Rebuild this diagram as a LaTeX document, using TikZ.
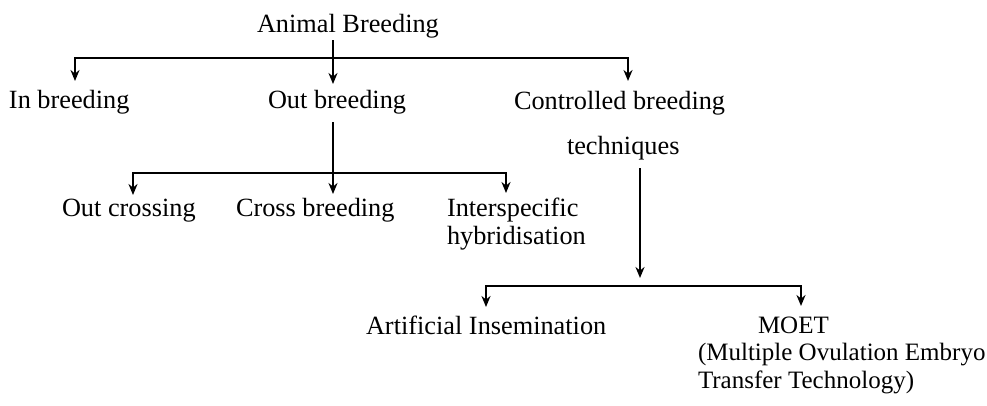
\documentclass[tikz,border=0pt]{standalone}
\usepackage{fontspec}
\setmainfont{Liberation Serif}
\usetikzlibrary{arrows.meta}
\begin{document}
\begin{tikzpicture}[x=1pt,y=-1pt,
  lbl/.style={font=\fontsize{26.3}{28}\selectfont, inner sep=0pt, outer sep=0pt, anchor=base west},
  small/.style={font=\fontsize{25}{28}\selectfont},
  mlbl/.style={lbl, align=left, anchor=north west},
  ln/.style={line width=2.2pt},
  arr/.style={ln, -{Stealth[length=11pt,width=9pt,inset=3.5pt]}}]
\useasboundingbox (0,0) rectangle (987,405);
% labels
\node[lbl] (AB) at (257,32) {Animal Breeding};
\node[lbl] (IB) at (9,108) {In breeding};
\node[lbl] (OB) at (268,108) {Out breeding};
\node[lbl] (CB) at (514,109) {Controlled breeding};
\node[lbl] (TQ) at (567,154) {techniques};
\node[lbl] (OC) at (62,216) {Out crossing};
\node[lbl] (CR) at (236,216) {Cross breeding};
\node[mlbl] (IS) at (447,198) {Interspecific\\hybridisation};
\node[lbl] (AI) at (366,334) {Artificial Insemination};
\node[lbl, small] (MO) at (758,333) {MOET};
\node[mlbl, small] (MD) at (698,343) {(Multiple Ovulation Embryo\\Transfer Technology)};
% first level
\coordinate (a0) at (333,40);
\coordinate (h1m) at (333,58);
\coordinate (pIB) at (75,81);
\coordinate (pOB) at (333,84);
\coordinate (pCB) at (628,81);
\draw[arr] (a0) -- (pOB);
\draw[arr] (h1m) -| (pIB);
\draw[arr] (h1m) -| (pCB);
% second level
\coordinate (b0) at (333,122);
\coordinate (h2m) at (333,173);
\coordinate (pOC) at (133,195);
\coordinate (pCR) at (333,194);
\coordinate (pIS) at (506,193);
\draw[arr] (b0) -- (pCR);
\draw[arr] (h2m) -| (pOC);
\draw[arr] (h2m) -| (pIS);
% third level
\coordinate (c0) at (640,168);
\coordinate (pTQ) at (640,278);
\coordinate (h3m) at (640,286);
\coordinate (pAI) at (486,307);
\coordinate (pMO) at (801,306);
\draw[arr] (c0) -- (pTQ);
\draw[arr] (h3m) -| (pAI);
\draw[arr] (h3m) -| (pMO);
\end{tikzpicture}
\end{document}
